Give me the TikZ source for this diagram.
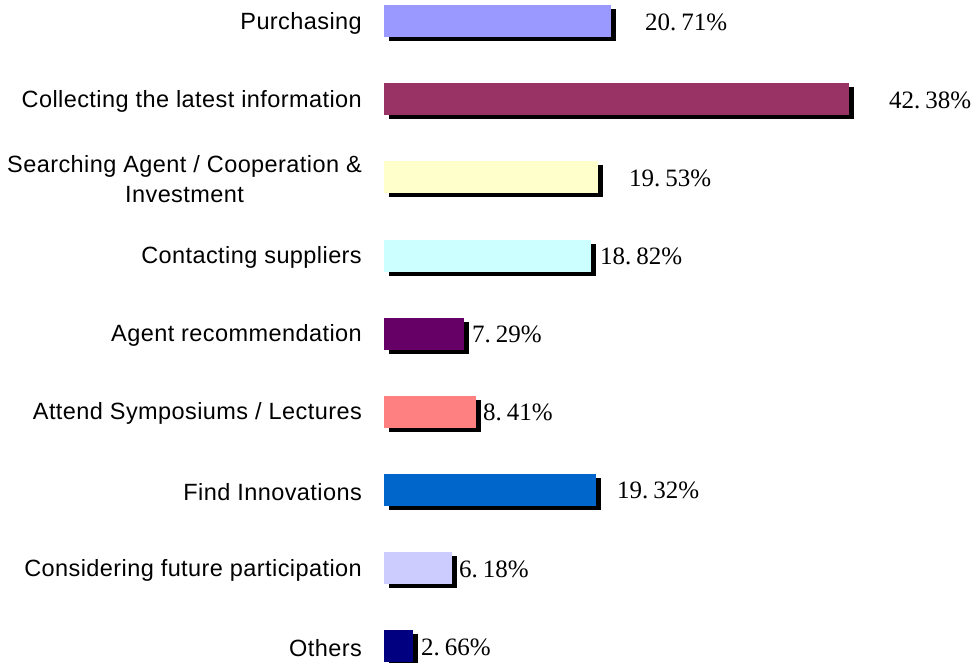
\documentclass[tikz,border=0pt]{standalone}
\usepackage{fontspec}
\setmainfont{Liberation Serif}
\newfontfamily\catfont[LetterSpace=1.8]{Liberation Sans}
\usetikzlibrary{positioning}

\definecolor{purchcol}{HTML}{9999FF}
\definecolor{collcol}{HTML}{993366}
\definecolor{searchcol}{HTML}{FFFFCC}
\definecolor{contcol}{HTML}{CCFFFF}
\definecolor{agentcol}{HTML}{660066}
\definecolor{attendcol}{HTML}{FF8080}
\definecolor{innovcol}{HTML}{0066CC}
\definecolor{futurecol}{HTML}{CCCCFF}
\definecolor{otherscol}{HTML}{000080}

\newcommand{\pctval}[2]{#1.\hspace{0.2em}#2\%}

\tikzset{
    bar/.style={anchor=north west, inner sep=0pt, minimum height=32pt},
    barshadow/.style={bar, fill=black},
    catlabel/.style={anchor=east, align=center, inner sep=0pt,
        font=\catfont\fontsize{23.5}{30}\selectfont},
    pctlabel/.style={anchor=west, inner sep=0pt,
        font=\fontsize{25}{30}\selectfont}
}

\begin{document}
\begin{tikzpicture}[x=1pt, y=-1pt]
    \useasboundingbox (0,0) rectangle (974,663);
    % bars with shadow, category at left, share at right
    \foreach \i/\name/\val/\col/\vx/\ip/\fp/\txt in {
        0/purchasing/20.71/purchcol/645/20/71/{Purchasing},
        1/collecting/42.38/collcol/889/42/38/{Collecting the latest information},
        2/searching/19.53/searchcol/629/19/53/{Searching Agent / Cooperation \&\\Investment},
        3/contacting/18.82/contcol/600/18/82/{Contacting suppliers},
        4/agent/7.29/agentcol/472/7/29/{Agent recommendation},
        5/attend/8.41/attendcol/483/8/41/{Attend Symposiums / Lectures},
        6/innov/19.32/innovcol/617/19/32/{Find Innovations},
        7/future/6.18/futurecol/459/6/18/{Considering future participation},
        8/others/2.66/otherscol/421/2/66/{Others}}
    {
        \pgfmathsetmacro{\top}{5+78.125*\i}
        \node[barshadow, minimum width={\val*10.97pt}] (\name-shadow) at (389,\top+4) {};
        \node[bar, fill=\col, minimum width={\val*10.97pt}] (\name) at (384,\top) {};
        \node[catlabel, left=22pt of \name, yshift=-2pt] (\name-label) {\txt};
        \node[pctlabel] (\name-pct) at (\vx,\top+17) {\pctval{\ip}{\fp}};
    }
\end{tikzpicture}
\end{document}
